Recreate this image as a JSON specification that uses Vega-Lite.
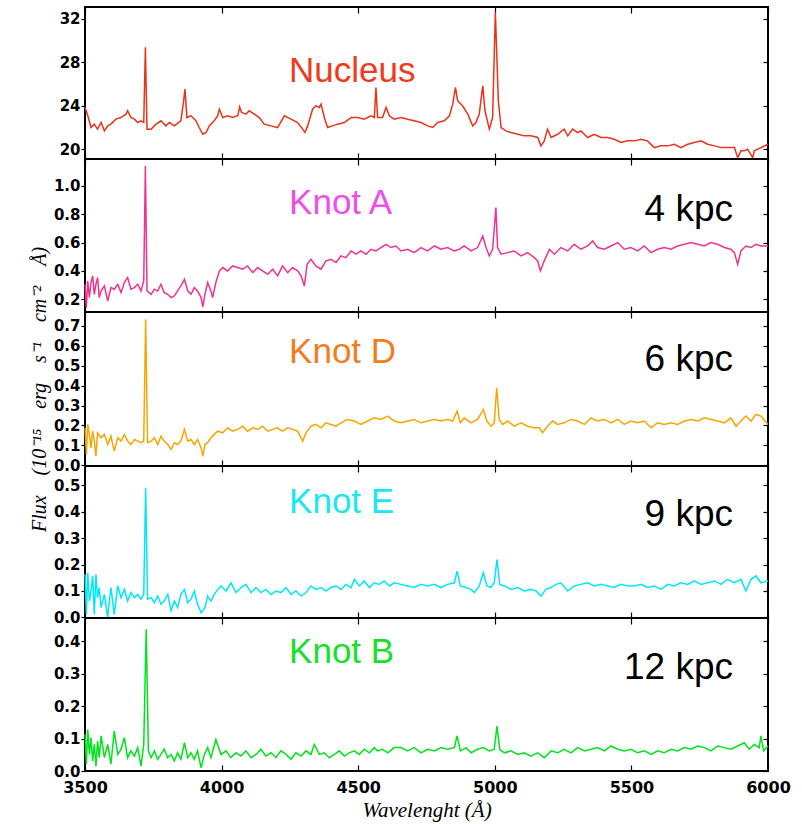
{
"$schema": "https://vega.github.io/schema/vega-lite/v6.json",
"background": "white",
"padding": {"left": 28, "top": 5, "right": 10, "bottom": 4},
"spacing": 0,
"bounds": "flush",
"config": {
  "view": {"stroke": "#000", "strokeWidth": 2},
  "axis": {"domain": false, "grid": false, "tickColor": "#000", "tickWidth": 1.2, "labelFont": "DejaVu Sans", "labelFontWeight": "bold", "labelFontSize": 15, "labelColor": "#000", "titleColor": "#000", "labelFlush": false, "labelOverlap": false, "labelBound": false}
},
"datasets": {
"nuc": [{"w":3500,"f":23.85},{"w":3510,"f":23.1},{"w":3522,"f":22.0},{"w":3534,"f":22.31},{"w":3546,"f":21.85},{"w":3559,"f":22.46},{"w":3571,"f":21.69},{"w":3583,"f":22.15},{"w":3595,"f":22.31},{"w":3613,"f":22.77},{"w":3632,"f":22.92},{"w":3650,"f":23.23},{"w":3656,"f":23.54},{"w":3668,"f":22.92},{"w":3681,"f":22.77},{"w":3693,"f":22.46},{"w":3705,"f":22.62},{"w":3715,"f":22.46},{"w":3721,"f":29.38},{"w":3727,"f":21.85},{"w":3742,"f":21.85},{"w":3760,"f":22.31},{"w":3778,"f":22.62},{"w":3796,"f":22.15},{"w":3809,"f":22.46},{"w":3827,"f":22.15},{"w":3851,"f":22.62},{"w":3861,"f":24.46},{"w":3866,"f":25.54},{"w":3873,"f":22.92},{"w":3888,"f":23.08},{"w":3906,"f":22.62},{"w":3918,"f":22.0},{"w":3931,"f":21.38},{"w":3943,"f":21.54},{"w":3955,"f":22.15},{"w":3973,"f":22.62},{"w":3986,"f":23.08},{"w":3992,"f":23.69},{"w":4004,"f":22.92},{"w":4022,"f":23.08},{"w":4040,"f":22.92},{"w":4059,"f":23.08},{"w":4066,"f":23.91},{"w":4073,"f":23.38},{"w":4089,"f":23.23},{"w":4101,"f":23.54},{"w":4120,"f":23.23},{"w":4138,"f":22.92},{"w":4156,"f":22.31},{"w":4181,"f":22.15},{"w":4205,"f":22.0},{"w":4230,"f":23.08},{"w":4254,"f":22.77},{"w":4278,"f":22.46},{"w":4297,"f":21.85},{"w":4305,"f":21.54},{"w":4315,"f":22.15},{"w":4333,"f":23.69},{"w":4345,"f":24.0},{"w":4358,"f":23.85},{"w":4364,"f":24.15},{"w":4376,"f":22.92},{"w":4388,"f":22.0},{"w":4406,"f":22.15},{"w":4425,"f":22.31},{"w":4449,"f":22.46},{"w":4474,"f":22.92},{"w":4498,"f":22.92},{"w":4522,"f":22.77},{"w":4547,"f":23.08},{"w":4559,"f":22.92},{"w":4565,"f":25.69},{"w":4571,"f":22.92},{"w":4589,"f":22.92},{"w":4602,"f":23.85},{"w":4614,"f":23.08},{"w":4632,"f":22.77},{"w":4657,"f":22.92},{"w":4681,"f":22.77},{"w":4705,"f":22.62},{"w":4730,"f":22.46},{"w":4754,"f":22.15},{"w":4773,"f":22.0},{"w":4791,"f":22.46},{"w":4815,"f":22.62},{"w":4834,"f":23.08},{"w":4846,"f":24.15},{"w":4856,"f":25.69},{"w":4864,"f":24.46},{"w":4882,"f":24.0},{"w":4901,"f":23.23},{"w":4919,"f":22.15},{"w":4931,"f":22.46},{"w":4943,"f":23.23},{"w":4956,"f":25.85},{"w":4964,"f":23.54},{"w":4980,"f":21.85},{"w":4992,"f":22.92},{"w":5002,"f":32.62},{"w":5013,"f":24.46},{"w":5023,"f":22.0},{"w":5041,"f":21.69},{"w":5059,"f":21.54},{"w":5084,"f":21.38},{"w":5108,"f":21.23},{"w":5132,"f":21.23},{"w":5157,"f":21.08},{"w":5169,"f":20.31},{"w":5181,"f":20.77},{"w":5193,"f":21.85},{"w":5206,"f":21.08},{"w":5230,"f":21.38},{"w":5254,"f":21.85},{"w":5267,"f":21.23},{"w":5285,"f":21.85},{"w":5303,"f":21.54},{"w":5315,"f":21.69},{"w":5340,"f":21.08},{"w":5364,"f":21.38},{"w":5389,"f":21.08},{"w":5413,"f":21.08},{"w":5437,"f":20.92},{"w":5462,"f":20.62},{"w":5486,"f":20.77},{"w":5511,"f":20.77},{"w":5535,"f":20.92},{"w":5559,"f":20.77},{"w":5584,"f":20.15},{"w":5608,"f":20.31},{"w":5633,"f":20.31},{"w":5657,"f":20.46},{"w":5681,"f":20.15},{"w":5706,"f":20.46},{"w":5730,"f":20.62},{"w":5755,"f":20.77},{"w":5779,"f":20.46},{"w":5804,"f":20.31},{"w":5828,"f":20.15},{"w":5852,"f":20.15},{"w":5877,"f":20.15},{"w":5889,"f":19.23},{"w":5901,"f":19.85},{"w":5913,"f":19.85},{"w":5925,"f":20.0},{"w":5944,"f":19.23},{"w":5950,"f":19.85},{"w":5974,"f":20.15},{"w":6000,"f":20.46}],
"ka": [{"w":3500,"f":0.306},{"w":3505,"f":0.141},{"w":3510,"f":0.329},{"w":3516,"f":0.212},{"w":3522,"f":0.318},{"w":3528,"f":0.365},{"w":3534,"f":0.235},{"w":3540,"f":0.306},{"w":3546,"f":0.353},{"w":3552,"f":0.212},{"w":3559,"f":0.259},{"w":3571,"f":0.294},{"w":3583,"f":0.188},{"w":3595,"f":0.282},{"w":3607,"f":0.271},{"w":3620,"f":0.306},{"w":3632,"f":0.247},{"w":3644,"f":0.318},{"w":3656,"f":0.353},{"w":3668,"f":0.271},{"w":3681,"f":0.282},{"w":3693,"f":0.306},{"w":3705,"f":0.259},{"w":3715,"f":0.329},{"w":3721,"f":1.141},{"w":3727,"f":0.259},{"w":3742,"f":0.235},{"w":3754,"f":0.271},{"w":3766,"f":0.259},{"w":3778,"f":0.306},{"w":3790,"f":0.247},{"w":3803,"f":0.235},{"w":3815,"f":0.212},{"w":3827,"f":0.224},{"w":3839,"f":0.259},{"w":3851,"f":0.294},{"w":3864,"f":0.341},{"w":3876,"f":0.259},{"w":3888,"f":0.235},{"w":3900,"f":0.282},{"w":3912,"f":0.259},{"w":3925,"f":0.212},{"w":3931,"f":0.146},{"w":3939,"f":0.235},{"w":3949,"f":0.318},{"w":3961,"f":0.259},{"w":3967,"f":0.212},{"w":3979,"f":0.318},{"w":3992,"f":0.4},{"w":4004,"f":0.424},{"w":4022,"f":0.4},{"w":4040,"f":0.435},{"w":4059,"f":0.424},{"w":4077,"f":0.412},{"w":4095,"f":0.435},{"w":4114,"f":0.388},{"w":4132,"f":0.424},{"w":4150,"f":0.4},{"w":4169,"f":0.376},{"w":4187,"f":0.412},{"w":4205,"f":0.365},{"w":4223,"f":0.435},{"w":4242,"f":0.388},{"w":4260,"f":0.424},{"w":4278,"f":0.4},{"w":4291,"f":0.365},{"w":4303,"f":0.294},{"w":4313,"f":0.447},{"w":4327,"f":0.482},{"w":4345,"f":0.435},{"w":4364,"f":0.412},{"w":4382,"f":0.471},{"w":4400,"f":0.482},{"w":4419,"f":0.459},{"w":4437,"f":0.506},{"w":4455,"f":0.494},{"w":4474,"f":0.541},{"w":4492,"f":0.518},{"w":4510,"f":0.541},{"w":4529,"f":0.518},{"w":4547,"f":0.553},{"w":4565,"f":0.541},{"w":4583,"f":0.565},{"w":4602,"f":0.588},{"w":4620,"f":0.565},{"w":4638,"f":0.576},{"w":4657,"f":0.541},{"w":4681,"f":0.553},{"w":4705,"f":0.529},{"w":4730,"f":0.565},{"w":4754,"f":0.541},{"w":4779,"f":0.576},{"w":4803,"f":0.553},{"w":4827,"f":0.565},{"w":4852,"f":0.541},{"w":4870,"f":0.553},{"w":4888,"f":0.576},{"w":4913,"f":0.541},{"w":4937,"f":0.565},{"w":4956,"f":0.647},{"w":4968,"f":0.565},{"w":4980,"f":0.506},{"w":4992,"f":0.553},{"w":5004,"f":0.847},{"w":5010,"f":0.565},{"w":5023,"f":0.518},{"w":5047,"f":0.529},{"w":5071,"f":0.541},{"w":5096,"f":0.506},{"w":5120,"f":0.529},{"w":5145,"f":0.494},{"w":5157,"f":0.471},{"w":5167,"f":0.4},{"w":5181,"f":0.471},{"w":5200,"f":0.553},{"w":5218,"f":0.518},{"w":5242,"f":0.565},{"w":5267,"f":0.541},{"w":5291,"f":0.588},{"w":5315,"f":0.553},{"w":5340,"f":0.576},{"w":5358,"f":0.612},{"w":5376,"f":0.565},{"w":5401,"f":0.553},{"w":5425,"f":0.576},{"w":5450,"f":0.6},{"w":5474,"f":0.553},{"w":5498,"f":0.565},{"w":5523,"f":0.541},{"w":5547,"f":0.576},{"w":5572,"f":0.529},{"w":5596,"f":0.553},{"w":5620,"f":0.565},{"w":5645,"f":0.553},{"w":5669,"f":0.576},{"w":5694,"f":0.588},{"w":5718,"f":0.6},{"w":5743,"f":0.588},{"w":5767,"f":0.576},{"w":5791,"f":0.6},{"w":5816,"f":0.588},{"w":5840,"f":0.565},{"w":5864,"f":0.553},{"w":5877,"f":0.529},{"w":5889,"f":0.447},{"w":5901,"f":0.541},{"w":5919,"f":0.576},{"w":5938,"f":0.565},{"w":5956,"f":0.588},{"w":5974,"f":0.576},{"w":6000,"f":0.576}],
"kd": [{"w":3500,"f":0.188},{"w":3505,"f":0.054},{"w":3510,"f":0.205},{"w":3516,"f":0.155},{"w":3522,"f":0.087},{"w":3528,"f":0.171},{"w":3534,"f":0.121},{"w":3540,"f":0.045},{"w":3546,"f":0.163},{"w":3559,"f":0.138},{"w":3571,"f":0.155},{"w":3583,"f":0.104},{"w":3595,"f":0.146},{"w":3607,"f":0.071},{"w":3620,"f":0.138},{"w":3632,"f":0.121},{"w":3644,"f":0.155},{"w":3656,"f":0.121},{"w":3668,"f":0.104},{"w":3681,"f":0.129},{"w":3693,"f":0.121},{"w":3705,"f":0.113},{"w":3715,"f":0.121},{"w":3722,"f":0.734},{"w":3729,"f":0.113},{"w":3742,"f":0.121},{"w":3754,"f":0.138},{"w":3766,"f":0.104},{"w":3778,"f":0.146},{"w":3790,"f":0.121},{"w":3803,"f":0.104},{"w":3815,"f":0.079},{"w":3827,"f":0.113},{"w":3839,"f":0.104},{"w":3851,"f":0.121},{"w":3864,"f":0.18},{"w":3876,"f":0.121},{"w":3888,"f":0.129},{"w":3900,"f":0.104},{"w":3912,"f":0.129},{"w":3925,"f":0.087},{"w":3931,"f":0.045},{"w":3939,"f":0.104},{"w":3949,"f":0.113},{"w":3961,"f":0.138},{"w":3973,"f":0.155},{"w":3986,"f":0.171},{"w":4004,"f":0.163},{"w":4022,"f":0.188},{"w":4040,"f":0.171},{"w":4059,"f":0.18},{"w":4077,"f":0.196},{"w":4095,"f":0.171},{"w":4114,"f":0.188},{"w":4132,"f":0.18},{"w":4150,"f":0.196},{"w":4169,"f":0.171},{"w":4187,"f":0.18},{"w":4205,"f":0.188},{"w":4223,"f":0.171},{"w":4242,"f":0.188},{"w":4260,"f":0.18},{"w":4278,"f":0.171},{"w":4297,"f":0.121},{"w":4309,"f":0.163},{"w":4327,"f":0.196},{"w":4345,"f":0.205},{"w":4364,"f":0.188},{"w":4382,"f":0.213},{"w":4400,"f":0.205},{"w":4419,"f":0.196},{"w":4437,"f":0.213},{"w":4461,"f":0.23},{"w":4486,"f":0.222},{"w":4510,"f":0.205},{"w":4535,"f":0.222},{"w":4559,"f":0.238},{"w":4583,"f":0.23},{"w":4608,"f":0.247},{"w":4632,"f":0.222},{"w":4657,"f":0.213},{"w":4681,"f":0.222},{"w":4705,"f":0.23},{"w":4730,"f":0.213},{"w":4754,"f":0.222},{"w":4779,"f":0.23},{"w":4803,"f":0.222},{"w":4827,"f":0.23},{"w":4846,"f":0.222},{"w":4862,"f":0.272},{"w":4874,"f":0.213},{"w":4888,"f":0.238},{"w":4913,"f":0.213},{"w":4937,"f":0.23},{"w":4958,"f":0.28},{"w":4971,"f":0.222},{"w":4986,"f":0.196},{"w":4998,"f":0.213},{"w":5007,"f":0.389},{"w":5016,"f":0.23},{"w":5029,"f":0.205},{"w":5047,"f":0.222},{"w":5071,"f":0.196},{"w":5096,"f":0.213},{"w":5120,"f":0.196},{"w":5145,"f":0.188},{"w":5163,"f":0.188},{"w":5175,"f":0.163},{"w":5193,"f":0.196},{"w":5212,"f":0.222},{"w":5230,"f":0.205},{"w":5254,"f":0.213},{"w":5279,"f":0.23},{"w":5303,"f":0.222},{"w":5328,"f":0.205},{"w":5352,"f":0.238},{"w":5376,"f":0.222},{"w":5401,"f":0.23},{"w":5425,"f":0.213},{"w":5450,"f":0.23},{"w":5474,"f":0.205},{"w":5498,"f":0.222},{"w":5523,"f":0.213},{"w":5547,"f":0.222},{"w":5572,"f":0.188},{"w":5596,"f":0.213},{"w":5620,"f":0.205},{"w":5645,"f":0.213},{"w":5669,"f":0.205},{"w":5694,"f":0.222},{"w":5718,"f":0.23},{"w":5743,"f":0.222},{"w":5767,"f":0.238},{"w":5791,"f":0.23},{"w":5816,"f":0.222},{"w":5840,"f":0.213},{"w":5864,"f":0.238},{"w":5883,"f":0.196},{"w":5901,"f":0.222},{"w":5919,"f":0.247},{"w":5938,"f":0.222},{"w":5956,"f":0.255},{"w":5974,"f":0.247},{"w":6000,"f":0.205}],
"ke": [{"w":3500,"f":0.163},{"w":3505,"f":0.012},{"w":3510,"f":0.169},{"w":3516,"f":0.062},{"w":3522,"f":0.1},{"w":3528,"f":0.157},{"w":3534,"f":0.012},{"w":3540,"f":0.163},{"w":3546,"f":0.075},{"w":3552,"f":0.113},{"w":3559,"f":0.037},{"w":3571,"f":0.087},{"w":3583,"f":0.0},{"w":3595,"f":0.113},{"w":3607,"f":0.012},{"w":3620,"f":0.119},{"w":3632,"f":0.075},{"w":3644,"f":0.106},{"w":3656,"f":0.062},{"w":3668,"f":0.094},{"w":3681,"f":0.075},{"w":3693,"f":0.087},{"w":3705,"f":0.069},{"w":3715,"f":0.087},{"w":3722,"f":0.49},{"w":3729,"f":0.069},{"w":3742,"f":0.075},{"w":3754,"f":0.056},{"w":3766,"f":0.081},{"w":3778,"f":0.05},{"w":3790,"f":0.062},{"w":3803,"f":0.087},{"w":3815,"f":0.025},{"w":3827,"f":0.062},{"w":3839,"f":0.037},{"w":3851,"f":0.087},{"w":3864,"f":0.106},{"w":3876,"f":0.056},{"w":3888,"f":0.069},{"w":3900,"f":0.1},{"w":3912,"f":0.05},{"w":3925,"f":0.018},{"w":3939,"f":0.037},{"w":3949,"f":0.081},{"w":3961,"f":0.062},{"w":3973,"f":0.087},{"w":3986,"f":0.106},{"w":3998,"f":0.119},{"w":4016,"f":0.1},{"w":4034,"f":0.131},{"w":4053,"f":0.094},{"w":4071,"f":0.113},{"w":4089,"f":0.125},{"w":4108,"f":0.094},{"w":4126,"f":0.113},{"w":4144,"f":0.094},{"w":4162,"f":0.106},{"w":4181,"f":0.087},{"w":4199,"f":0.1},{"w":4217,"f":0.094},{"w":4236,"f":0.113},{"w":4254,"f":0.087},{"w":4272,"f":0.1},{"w":4291,"f":0.081},{"w":4309,"f":0.094},{"w":4327,"f":0.119},{"w":4345,"f":0.106},{"w":4364,"f":0.113},{"w":4382,"f":0.1},{"w":4400,"f":0.113},{"w":4419,"f":0.119},{"w":4437,"f":0.106},{"w":4455,"f":0.125},{"w":4474,"f":0.113},{"w":4486,"f":0.144},{"w":4504,"f":0.119},{"w":4522,"f":0.138},{"w":4541,"f":0.113},{"w":4559,"f":0.131},{"w":4577,"f":0.125},{"w":4595,"f":0.138},{"w":4614,"f":0.119},{"w":4632,"f":0.131},{"w":4657,"f":0.125},{"w":4681,"f":0.119},{"w":4705,"f":0.113},{"w":4730,"f":0.125},{"w":4754,"f":0.119},{"w":4779,"f":0.125},{"w":4803,"f":0.113},{"w":4827,"f":0.125},{"w":4852,"f":0.131},{"w":4862,"f":0.175},{"w":4874,"f":0.119},{"w":4895,"f":0.113},{"w":4913,"f":0.106},{"w":4925,"f":0.094},{"w":4943,"f":0.119},{"w":4958,"f":0.169},{"w":4971,"f":0.119},{"w":4986,"f":0.113},{"w":4998,"f":0.131},{"w":5008,"f":0.219},{"w":5018,"f":0.125},{"w":5035,"f":0.119},{"w":5059,"f":0.106},{"w":5084,"f":0.113},{"w":5108,"f":0.1},{"w":5132,"f":0.106},{"w":5151,"f":0.1},{"w":5169,"f":0.081},{"w":5187,"f":0.106},{"w":5206,"f":0.113},{"w":5224,"f":0.125},{"w":5242,"f":0.131},{"w":5267,"f":0.1},{"w":5291,"f":0.119},{"w":5315,"f":0.125},{"w":5340,"f":0.131},{"w":5364,"f":0.119},{"w":5389,"f":0.125},{"w":5413,"f":0.119},{"w":5437,"f":0.113},{"w":5462,"f":0.125},{"w":5486,"f":0.119},{"w":5511,"f":0.119},{"w":5535,"f":0.125},{"w":5559,"f":0.113},{"w":5584,"f":0.119},{"w":5608,"f":0.106},{"w":5633,"f":0.125},{"w":5657,"f":0.119},{"w":5681,"f":0.131},{"w":5706,"f":0.125},{"w":5730,"f":0.138},{"w":5755,"f":0.125},{"w":5779,"f":0.131},{"w":5804,"f":0.138},{"w":5828,"f":0.125},{"w":5852,"f":0.144},{"w":5877,"f":0.131},{"w":5901,"f":0.144},{"w":5919,"f":0.1},{"w":5938,"f":0.144},{"w":5956,"f":0.157},{"w":5974,"f":0.131},{"w":6000,"f":0.138}],
"kb": [{"w":3500,"f":0.113},{"w":3505,"f":0.021},{"w":3510,"f":0.128},{"w":3516,"f":0.051},{"w":3522,"f":0.103},{"w":3528,"f":0.031},{"w":3534,"f":0.082},{"w":3540,"f":0.015},{"w":3546,"f":0.092},{"w":3552,"f":0.041},{"w":3559,"f":0.108},{"w":3571,"f":0.041},{"w":3583,"f":0.082},{"w":3595,"f":0.021},{"w":3607,"f":0.123},{"w":3620,"f":0.051},{"w":3632,"f":0.067},{"w":3644,"f":0.103},{"w":3656,"f":0.041},{"w":3668,"f":0.062},{"w":3681,"f":0.046},{"w":3693,"f":0.072},{"w":3705,"f":0.015},{"w":3715,"f":0.082},{"w":3724,"f":0.436},{"w":3732,"f":0.062},{"w":3742,"f":0.041},{"w":3754,"f":0.062},{"w":3766,"f":0.036},{"w":3778,"f":0.051},{"w":3790,"f":0.067},{"w":3803,"f":0.041},{"w":3815,"f":0.051},{"w":3827,"f":0.031},{"w":3839,"f":0.056},{"w":3851,"f":0.036},{"w":3864,"f":0.087},{"w":3876,"f":0.041},{"w":3888,"f":0.056},{"w":3900,"f":0.036},{"w":3912,"f":0.062},{"w":3925,"f":0.01},{"w":3937,"f":0.051},{"w":3949,"f":0.072},{"w":3961,"f":0.041},{"w":3979,"f":0.097},{"w":3998,"f":0.051},{"w":4016,"f":0.062},{"w":4034,"f":0.041},{"w":4053,"f":0.056},{"w":4071,"f":0.046},{"w":4089,"f":0.062},{"w":4108,"f":0.041},{"w":4126,"f":0.051},{"w":4144,"f":0.067},{"w":4162,"f":0.046},{"w":4181,"f":0.056},{"w":4199,"f":0.041},{"w":4217,"f":0.062},{"w":4236,"f":0.051},{"w":4254,"f":0.036},{"w":4272,"f":0.056},{"w":4291,"f":0.046},{"w":4309,"f":0.062},{"w":4327,"f":0.051},{"w":4339,"f":0.082},{"w":4358,"f":0.051},{"w":4376,"f":0.056},{"w":4394,"f":0.041},{"w":4413,"f":0.051},{"w":4431,"f":0.062},{"w":4449,"f":0.046},{"w":4467,"f":0.056},{"w":4486,"f":0.062},{"w":4504,"f":0.051},{"w":4522,"f":0.067},{"w":4541,"f":0.056},{"w":4559,"f":0.072},{"w":4571,"f":0.062},{"w":4589,"f":0.067},{"w":4608,"f":0.056},{"w":4632,"f":0.072},{"w":4657,"f":0.072},{"w":4681,"f":0.062},{"w":4705,"f":0.072},{"w":4730,"f":0.056},{"w":4754,"f":0.067},{"w":4779,"f":0.062},{"w":4803,"f":0.072},{"w":4827,"f":0.067},{"w":4852,"f":0.072},{"w":4862,"f":0.108},{"w":4874,"f":0.062},{"w":4895,"f":0.072},{"w":4913,"f":0.056},{"w":4937,"f":0.067},{"w":4958,"f":0.072},{"w":4980,"f":0.062},{"w":4998,"f":0.067},{"w":5008,"f":0.138},{"w":5018,"f":0.067},{"w":5035,"f":0.056},{"w":5059,"f":0.062},{"w":5084,"f":0.051},{"w":5108,"f":0.056},{"w":5132,"f":0.046},{"w":5157,"f":0.056},{"w":5181,"f":0.041},{"w":5206,"f":0.062},{"w":5230,"f":0.056},{"w":5254,"f":0.067},{"w":5279,"f":0.056},{"w":5303,"f":0.072},{"w":5328,"f":0.062},{"w":5352,"f":0.067},{"w":5376,"f":0.072},{"w":5401,"f":0.062},{"w":5425,"f":0.077},{"w":5450,"f":0.067},{"w":5474,"f":0.062},{"w":5498,"f":0.067},{"w":5523,"f":0.056},{"w":5547,"f":0.062},{"w":5572,"f":0.051},{"w":5596,"f":0.062},{"w":5620,"f":0.056},{"w":5645,"f":0.067},{"w":5669,"f":0.062},{"w":5694,"f":0.072},{"w":5718,"f":0.067},{"w":5743,"f":0.077},{"w":5767,"f":0.072},{"w":5791,"f":0.062},{"w":5816,"f":0.077},{"w":5840,"f":0.072},{"w":5864,"f":0.067},{"w":5889,"f":0.077},{"w":5913,"f":0.087},{"w":5931,"f":0.067},{"w":5950,"f":0.082},{"w":5968,"f":0.072},{"w":5974,"f":0.108},{"w":5984,"f":0.062},{"w":6000,"f":0.077}]
},
"vconcat": [
{
  "width": 683, "height": 152,
  "resolve": {"axis": {"x": "independent", "y": "independent"}},
  "layer": [
    {"data": {"name": "nuc"}, "mark": {"type": "line", "color": "#ea3418", "strokeWidth": 1.5},
     "encoding": {
       "x": {"field": "w", "type": "quantitative", "scale": {"domain": [3500, 6000], "nice": false, "zero": false}, "axis": {"orient": "bottom", "values": [3500,4000,4500,5000,5500,6000], "labels": false, "tickSize": -6, "title": null}},
       "y": {"field": "f", "type": "quantitative", "scale": {"domain": [19.1, 33.1], "nice": false, "zero": false}, "axis": {"orient": "left", "values": [20,24,28,32], "format": "d", "tickSize": 4, "labelPadding": 1, "title": null}}}},
    {"data": {"values": [{"w": 4247, "f": 26.15, "t": "Nucleus"}]}, "mark": {"type": "text", "align": "left", "baseline": "alphabetic", "font": "Liberation Sans", "fontSize": 35, "color": "#f03a1a"},
     "encoding": {
       "x": {"field": "w", "type": "quantitative", "axis": {"orient": "top", "values": [3500,4000,4500,5000,5500,6000], "labels": false, "tickSize": -6, "title": null}},
       "y": {"field": "f", "type": "quantitative", "axis": {"orient": "right", "values": [20,24,28,32], "labels": false, "tickSize": -5, "title": null}},
       "text": {"field": "t"}}}
  ]
},
{
  "width": 683, "height": 153,
  "resolve": {"axis": {"x": "independent", "y": "independent"}},
  "layer": [
    {"data": {"name": "ka"}, "mark": {"type": "line", "color": "#f0338f", "strokeWidth": 1.5},
     "encoding": {
       "x": {"field": "w", "type": "quantitative", "scale": {"domain": [3500, 6000], "nice": false, "zero": false}, "axis": {"orient": "bottom", "values": [3500,4000,4500,5000,5500,6000], "labels": false, "tickSize": -6, "title": null}},
       "y": {"field": "f", "type": "quantitative", "scale": {"domain": [0.11, 1.19], "nice": false, "zero": false}, "axis": {"orient": "left", "values": [0.2,0.4,0.6,0.8,1.0], "format": ".1f", "tickSize": 4, "labelPadding": 1, "title": null}}}},
    {"data": {"values": [{"w": 4247, "f": 0.80, "t": "Knot A"}]}, "mark": {"type": "text", "align": "left", "baseline": "alphabetic", "font": "Liberation Sans", "fontSize": 35, "color": "#ee4fe6"},
     "encoding": {
       "x": {"field": "w", "type": "quantitative", "axis": {"orient": "top", "values": [3500,4000,4500,5000,5500,6000], "labels": false, "tickSize": -6, "title": null}},
       "y": {"field": "f", "type": "quantitative", "axis": {"orient": "right", "values": [0.2,0.4,0.6,0.8,1.0], "labels": false, "tickSize": -5, "title": null}},
       "text": {"field": "t"}}},
    {"data": {"values": [{"w": 5872, "f": 0.753, "t": "4 kpc"}]}, "mark": {"type": "text", "align": "right", "baseline": "alphabetic", "font": "Liberation Sans", "fontSize": 37, "color": "#000"},
     "encoding": {"x": {"field": "w", "type": "quantitative", "axis": null}, "y": {"field": "f", "type": "quantitative", "axis": null}, "text": {"field": "t"}}}
  ]
},
{
  "width": 683, "height": 154,
  "resolve": {"axis": {"x": "independent", "y": "independent"}},
  "layer": [
    {"data": {"name": "kd"}, "mark": {"type": "line", "color": "#f7a600", "strokeWidth": 1.5},
     "encoding": {
       "x": {"field": "w", "type": "quantitative", "scale": {"domain": [3500, 6000], "nice": false, "zero": false}, "axis": {"orient": "bottom", "values": [3500,4000,4500,5000,5500,6000], "labels": false, "tickSize": -6, "title": null}},
       "y": {"field": "f", "type": "quantitative", "scale": {"domain": [-0.004, 0.77], "nice": false, "zero": false}, "axis": {"orient": "left", "values": [0,0.1,0.2,0.3,0.4,0.5,0.6,0.7], "format": ".1f", "tickSize": 4, "labelPadding": 1, "title": "Flux\u2003(10⁻¹⁵\u2003erg\u2003s⁻¹\u2003cm⁻²\u2003Å)", "titleFont": "Liberation Serif", "titleFontStyle": "italic", "titleFontWeight": "normal", "titleFontSize": 20, "titlePadding": 4}}}},
    {"data": {"values": [{"w": 4247, "f": 0.515, "t": "Knot D"}]}, "mark": {"type": "text", "align": "left", "baseline": "alphabetic", "font": "Liberation Sans", "fontSize": 35, "color": "#f27d1c"},
     "encoding": {
       "x": {"field": "w", "type": "quantitative", "axis": {"orient": "top", "values": [3500,4000,4500,5000,5500,6000], "labels": false, "tickSize": -6, "title": null}},
       "y": {"field": "f", "type": "quantitative", "axis": {"orient": "right", "values": [0,0.1,0.2,0.3,0.4,0.5,0.6,0.7], "labels": false, "tickSize": -5, "title": null}},
       "text": {"field": "t"}}},
    {"data": {"values": [{"w": 5872, "f": 0.473, "t": "6 kpc"}]}, "mark": {"type": "text", "align": "right", "baseline": "alphabetic", "font": "Liberation Sans", "fontSize": 37, "color": "#000"},
     "encoding": {"x": {"field": "w", "type": "quantitative", "axis": null}, "y": {"field": "f", "type": "quantitative", "axis": null}, "text": {"field": "t"}}}
  ]
},
{
  "width": 683, "height": 152,
  "resolve": {"axis": {"x": "independent", "y": "independent"}},
  "layer": [
    {"data": {"name": "ke"}, "mark": {"type": "line", "color": "#00e8f4", "strokeWidth": 1.5},
     "encoding": {
       "x": {"field": "w", "type": "quantitative", "scale": {"domain": [3500, 6000], "nice": false, "zero": false}, "axis": {"orient": "bottom", "values": [3500,4000,4500,5000,5500,6000], "labels": false, "tickSize": -6, "title": null}},
       "y": {"field": "f", "type": "quantitative", "scale": {"domain": [-0.002, 0.572], "nice": false, "zero": false}, "axis": {"orient": "left", "values": [0,0.1,0.2,0.3,0.4,0.5], "format": ".1f", "tickSize": 4, "labelPadding": 1, "title": null}}}},
    {"data": {"values": [{"w": 4247, "f": 0.395, "t": "Knot E"}]}, "mark": {"type": "text", "align": "left", "baseline": "alphabetic", "font": "Liberation Sans", "fontSize": 35, "color": "#19e8f0"},
     "encoding": {
       "x": {"field": "w", "type": "quantitative", "axis": {"orient": "top", "values": [3500,4000,4500,5000,5500,6000], "labels": false, "tickSize": -6, "title": null}},
       "y": {"field": "f", "type": "quantitative", "axis": {"orient": "right", "values": [0,0.1,0.2,0.3,0.4,0.5], "labels": false, "tickSize": -5, "title": null}},
       "text": {"field": "t"}}},
    {"data": {"values": [{"w": 5872, "f": 0.345, "t": "9 kpc"}]}, "mark": {"type": "text", "align": "right", "baseline": "alphabetic", "font": "Liberation Sans", "fontSize": 37, "color": "#000"},
     "encoding": {"x": {"field": "w", "type": "quantitative", "axis": null}, "y": {"field": "f", "type": "quantitative", "axis": null}, "text": {"field": "t"}}}
  ]
},
{
  "width": 683, "height": 153,
  "resolve": {"axis": {"x": "independent", "y": "independent"}},
  "layer": [
    {"data": {"name": "kb"}, "mark": {"type": "line", "color": "#00e41c", "strokeWidth": 1.5},
     "encoding": {
       "x": {"field": "w", "type": "quantitative", "scale": {"domain": [3500, 6000], "nice": false, "zero": false}, "axis": {"orient": "bottom", "values": [3500,4000,4500,5000,5500,6000], "format": "d", "labels": true, "tickSize": -6, "labelPadding": 14, "labelFontSize": 16, "title": "Wavelenght (Å)", "titleFont": "Liberation Serif", "titleFontStyle": "italic", "titleFontWeight": "normal", "titleFontSize": 21, "titlePadding": 4}},
       "y": {"field": "f", "type": "quantitative", "scale": {"domain": [0, 0.471], "nice": false, "zero": false}, "axis": {"orient": "left", "values": [0,0.1,0.2,0.3,0.4], "format": ".1f", "tickSize": 4, "labelPadding": 1, "title": null}}}},
    {"data": {"values": [{"w": 4247, "f": 0.333, "t": "Knot B"}]}, "mark": {"type": "text", "align": "left", "baseline": "alphabetic", "font": "Liberation Sans", "fontSize": 35, "color": "#18e02a"},
     "encoding": {
       "x": {"field": "w", "type": "quantitative", "axis": {"orient": "top", "values": [3500,4000,4500,5000,5500,6000], "labels": false, "tickSize": -6, "title": null}},
       "y": {"field": "f", "type": "quantitative", "axis": {"orient": "right", "values": [0,0.1,0.2,0.3,0.4], "labels": false, "tickSize": -5, "title": null}},
       "text": {"field": "t"}}},
    {"data": {"values": [{"w": 5872, "f": 0.283, "t": "12 kpc"}]}, "mark": {"type": "text", "align": "right", "baseline": "alphabetic", "font": "Liberation Sans", "fontSize": 37, "color": "#000"},
     "encoding": {"x": {"field": "w", "type": "quantitative", "axis": null}, "y": {"field": "f", "type": "quantitative", "axis": null}, "text": {"field": "t"}}}
  ]
}
]
}
